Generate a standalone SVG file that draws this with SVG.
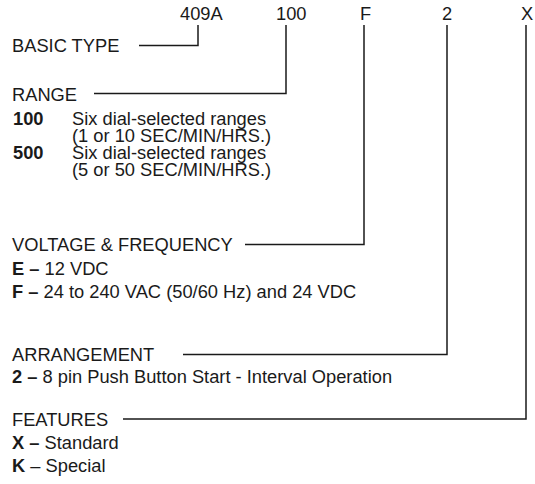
<svg xmlns="http://www.w3.org/2000/svg" width="535" height="484" viewBox="0 0 535 484">
<style>
text{font-family:"Liberation Sans",Arial,sans-serif;font-size:18.3px;fill:#1a1a1a}
.b{font-weight:bold}
.c{fill:none;stroke:#1a1a1a;stroke-width:1.5}
</style>
<rect width="535" height="484" fill="#fff"/>
<g id="codes">
<text x="180" y="20">409A</text>
<text x="276" y="20">100</text>
<text x="360" y="20">F</text>
<text x="442" y="20">2</text>
<text x="521" y="20">X</text>
</g>
<g id="connectors">
<polyline class="c" points="198,25 198,45.5 139,45.5"/>
<polyline class="c" points="286,25 286,93.5 94,93.5"/>
<polyline class="c" points="364,25 364,244.5 245,244.5"/>
<polyline class="c" points="447,25 447,354.5 183,354.5"/>
<polyline class="c" points="526,25 526,419 123,419"/>
</g>
<g id="basic-type">
<text x="12" y="52">BASIC TYPE</text>
</g>
<g id="range">
<text x="12" y="101">RANGE</text>
<text class="b" x="13" y="125">100</text>
<text x="72" y="125">Six dial-selected ranges</text>
<text x="72" y="142">(1 or 10 SEC/MIN/HRS.)</text>
<text class="b" x="13" y="159">500</text>
<text x="72" y="159">Six dial-selected ranges</text>
<text x="72" y="176">(5 or 50 SEC/MIN/HRS.)</text>
</g>
<g id="voltage">
<text x="12" y="251">VOLTAGE &amp; FREQUENCY</text>
<text x="12" y="275"><tspan class="b">E –</tspan> 12 VDC</text>
<text x="12" y="298"><tspan class="b">F –</tspan> 24 to 240 VAC (50/60 Hz) and 24 VDC</text>
</g>
<g id="arrangement">
<text x="12" y="361">ARRANGEMENT</text>
<text x="12" y="383"><tspan class="b">2 –</tspan> 8 pin Push Button Start - Interval Operation</text>
</g>
<g id="features">
<text x="12" y="426">FEATURES</text>
<text x="12" y="449"><tspan class="b">X –</tspan> Standard</text>
<text x="12" y="472"><tspan class="b">K</tspan> – Special</text>
</g>
</svg>
